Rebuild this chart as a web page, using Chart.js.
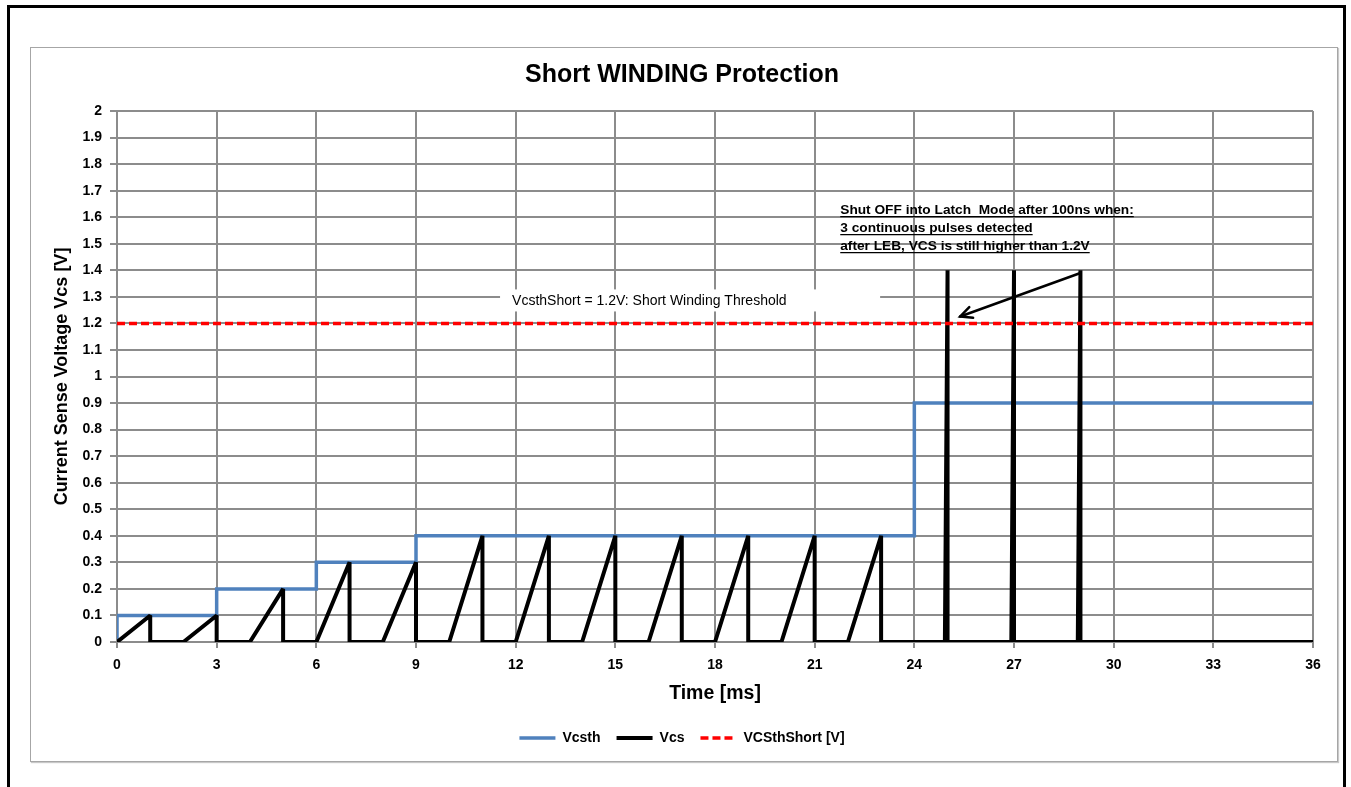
<!DOCTYPE html>
<html><head><meta charset="utf-8">
<script src="https://cdn.jsdelivr.net/npm/chart.js@4.4.1/dist/chart.umd.min.js"></script>
<style>
html,body{margin:0;padding:0;background:#fff;width:1351px;height:787px;overflow:hidden}
#outer{position:absolute;left:7px;top:5px;width:1339px;height:800px;border:3px solid #000;box-sizing:border-box}
#frame{position:absolute;left:30px;top:47px;width:1308px;height:715px;border:1px solid #a6a6a6;box-sizing:border-box;box-shadow:1px 1px 1px #c8c8c8;background:#fff}
#frame canvas{display:block}
</style></head><body>
<div id="outer"></div>
<div id="frame"><canvas id="c" width="1306" height="713"></canvas></div>
<script>
// ---- data ----
const vcsthTime  = [0, 0, 3, 3, 6, 6, 9, 9, 24, 24, 36];
const vcsthValue = [0, 0.1, 0.1, 0.2, 0.2, 0.3, 0.3, 0.4, 0.4, 0.9, 0.9];

const vcsTime = [
  0, 1, 1,   2, 3, 3,   4, 5, 5,   6, 7, 7,   8, 9, 9,
  10, 11, 11, 12, 13, 13, 14, 15, 15, 16, 17, 17, 18, 19, 19,
  20, 21, 21, 22, 23, 23,
  24.92, 25, 25, 26.92, 27, 27, 28.92, 29, 29,
  36
];
const vcsValue = [
  0, 0.1, 0,  0, 0.1, 0,  0, 0.2, 0,  0, 0.3, 0,  0, 0.3, 0,
  0, 0.4, 0,  0, 0.4, 0,  0, 0.4, 0,  0, 0.4, 0,  0, 0.4, 0,
  0, 0.4, 0,  0, 0.4, 0,
  0, 1.4, 0,  0, 1.4, 0,  0, 1.4, 0,
  0
];

const thresholdTime  = [0, 36];
const thresholdValue = [1.2, 1.2];

const seriesNames = ['Vcsth', 'Vcs', 'VCSthShort [V]'];
const chartTitle = 'Short WINDING Protection';
const xTitle = 'Time [ms]';
const yTitle = 'Current Sense Voltage Vcs [V]';
const thresholdNote = 'VcsthShort = 1.2V: Short Winding Threshold';
const latchNote = [
  'Shut OFF into Latch  Mode after 100ns when:',
  '3 continuous pulses detected',
  'after LEB, VCS is still higher than 1.2V'
];

// ---- helpers ----
const pts = (xs, ys) => xs.map((x, i) => ({x: x, y: ys[i]}));
const FONT = '"Liberation Sans", Arial, sans-serif';
const GRID = '#8c8c8c';

const annot = {
  id: 'annot',
  beforeDatasetsDraw(chart) {
    const {ctx, scales: {x, y}} = chart;
    const x0 = x.getPixelForValue(11.53), x1 = x.getPixelForValue(22.97);
    const y0 = y.getPixelForValue(1.328), y1 = y.getPixelForValue(1.245);
    ctx.save();
    ctx.fillStyle = '#fff';
    ctx.fillRect(x0, y0, x1 - x0, y1 - y0);
    ctx.fillStyle = '#000';
    ctx.font = '14px ' + FONT;
    ctx.textBaseline = 'middle';
    ctx.fillText(thresholdNote, x0 + 12, (y0 + y1) / 2 + 1);
    ctx.restore();
  },
  afterDatasetsDraw(chart) {
    const {ctx, scales: {x, y}} = chart;
    ctx.save();
    ctx.font = 'bold 13.7px ' + FONT;
    ctx.fillStyle = '#000';
    ctx.strokeStyle = '#000';
    ctx.textBaseline = 'alphabetic';
    const tx = x.getPixelForValue(21.77);
    let ty = y.getPixelForValue(1.627) + 4;
    latchNote.forEach(line => {
      ctx.fillText(line, tx, ty);
      const w = ctx.measureText(line).width;
      ctx.lineWidth = 1.2;
      ctx.beginPath();
      ctx.moveTo(tx, ty + 2.5);
      ctx.lineTo(tx + w, ty + 2.5);
      ctx.stroke();
      ty += 18;
    });
    const ax0 = x.getPixelForValue(29), ay0 = y.getPixelForValue(1.39);
    const ax1 = x.getPixelForValue(25.38), ay1 = y.getPixelForValue(1.226);
    const ang = Math.atan2(ay1 - ay0, ax1 - ax0);
    ctx.lineWidth = 2.5;
    ctx.lineCap = 'round';
    ctx.beginPath();
    ctx.moveTo(ax0, ay0);
    ctx.lineTo(ax1, ay1);
    ctx.stroke();
    const L = 13, a = 0.45;
    ctx.beginPath();
    ctx.moveTo(ax1 - L * Math.cos(ang - a), ay1 - L * Math.sin(ang - a));
    ctx.lineTo(ax1, ay1);
    ctx.lineTo(ax1 - L * Math.cos(ang + a), ay1 - L * Math.sin(ang + a));
    ctx.stroke();
    ctx.restore();
  }
};

new Chart(document.getElementById('c'), {
  type: 'line',
  data: {
    datasets: [
      {label: seriesNames[0], data: pts(vcsthTime, vcsthValue), borderColor: '#4F81BD', backgroundColor: '#4F81BD',
       borderWidth: 3.5, borderJoinStyle: 'miter', pointRadius: 0, tension: 0, order: 3},
      {label: seriesNames[1], data: pts(vcsTime, vcsValue), borderColor: '#000', backgroundColor: '#000',
       borderWidth: 4, borderJoinStyle: 'bevel', pointRadius: 0, tension: 0, order: 2},
      {label: seriesNames[2], data: pts(thresholdTime, thresholdValue), borderColor: '#FF0000', backgroundColor: '#FF0000',
       borderWidth: 3.5, borderDash: [8, 4], pointRadius: 0, tension: 0, order: 1}
    ]
  },
  options: {
    responsive: false,
    animation: false,
    events: [],
    layout: {padding: {left: 20, right: 24, top: 0, bottom: 6}},
    plugins: {
      title: {display: true, text: chartTitle, color: '#000',
              font: {family: FONT, size: 25, weight: 'bold'}, padding: {top: 12, bottom: 21}},
      legend: {position: 'bottom',
               labels: {usePointStyle: true, pointStyle: 'line', pointStyleWidth: 36, color: '#000', padding: 16,
                        font: {family: FONT, size: 14, weight: 'bold'},
                        sort: (a, b) => a.datasetIndex - b.datasetIndex,
                        generateLabels: chart => {
                          const items = Chart.defaults.plugins.legend.labels.generateLabels(chart);
                          items.forEach(it => {
                            const ds = chart.data.datasets[it.datasetIndex];
                            it.lineDash = ds.borderDash || [];
                            it.lineWidth = ds.borderWidth;
                            it.strokeStyle = ds.borderColor;
                            it.pointStyle = 'line';
                          });
                          return items;
                        }}},
      tooltip: {enabled: false}
    },
    scales: {
      x: {type: 'linear', min: 0, max: 36,
          ticks: {stepSize: 3, color: '#000', padding: 9, maxRotation: 0, autoSkip: false,
                  font: {family: FONT, size: 14, weight: 'bold'}},
          grid: {color: GRID, lineWidth: 2, tickLength: 6, tickColor: GRID},
          border: {color: GRID, width: 2},
          title: {display: true, text: xTitle, color: '#000', font: {family: FONT, size: 19.5, weight: 'bold'},
                  padding: {top: 0, bottom: 10}},
          afterFit: s => { s.height = 73; }},
      y: {type: 'linear', min: 0, max: 2,
          ticks: {stepSize: 0.1, color: '#000', padding: 8, autoSkip: false,
                  font: {family: FONT, size: 14, weight: 'bold'},
                  callback: v => String(Math.round(v * 10) / 10)},
          grid: {color: GRID, lineWidth: 2, tickLength: 7, tickColor: GRID},
          border: {color: GRID, width: 2},
          title: {display: true, text: yTitle, color: '#000', font: {family: FONT, size: 18, weight: 'bold'},
                  padding: {top: 0, bottom: 0}},
          afterFit: s => { s.width = 66; }}
    }
  },
  plugins: [annot]
});
</script>
</body></html>
